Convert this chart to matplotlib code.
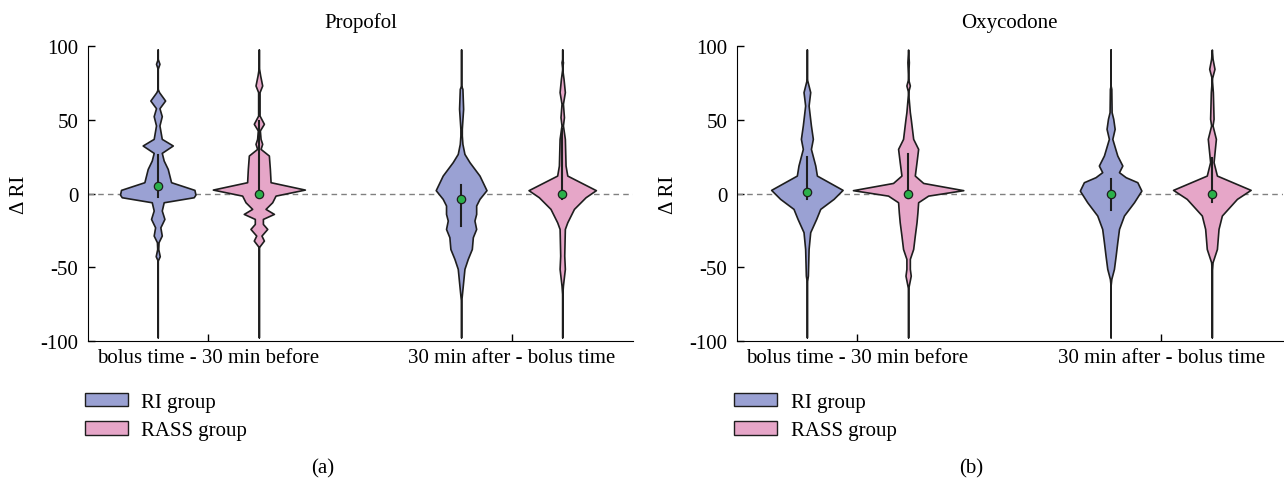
import matplotlib
matplotlib.use("Agg")
import matplotlib.pyplot as plt
from matplotlib.patches import Patch

plt.rcParams['font.family'] = ['Liberation Serif', 'DejaVu Serif']
plt.rcParams['axes.unicode_minus'] = False

# violin outlines: value levels and half widths (x units)
prop_ri_before_y = [97.7, 91.4, 88.0, 84.6, 71.0, 68.8, 63.1, 57.9, 52.5, 46.2, 37.1, 32.6, 27.6, 22.4,
                    16.7, 7.7, 2.5, -0.7, -2.5, -5.9, -11.5, -17.2, -22.9, -28.5, -33.0, -37.6, -42.5,
                    -45.5, -97.5]
prop_ri_before_w = [0, 0, 0.017, 0, 0, 0.013, 0.073, 0.017, 0.040, 0.017, 0.040, 0.149, 0.040, 0.059,
                    0.099, 0.132, 0.363, 0.373, 0.356, 0.059, 0.040, 0.066, 0.026, 0.040, 0.008, 0.005,
                    0.020, 0, 0]
prop_rass_before_y = [97.7, 85.7, 80.1, 73.3, 68.8, 52.9, 47.3, 42.8, 37.1, 33.7, 30.3, 25.8, 16.7, 7.7,
                      2.7, -1.4, -5.9, -10.4, -13.8, -17.2, -20.6, -24.0, -28.5, -31.9, -36.4, -97.5]
prop_rass_before_w = [0, 0, 0.013, 0.033, 0.007, 0.007, 0.050, 0.010, 0.017, 0.033, 0.017, 0.099, 0.109,
                      0.116, 0.455, 0.165, 0.132, 0.066, 0.149, 0.040, 0.040, 0.083, 0.026, 0.050, 0, 0]
prop_ri_after_y = [97.7, 73.3, 71.0, 57.5, 43.9, 39.4, 33.7, 26.9, 21.3, 12.2, 2.3, -3.6, -8.1, -13.8,
                   -18.3, -24.0, -29.6, -37.6, -44.3, -51.1, -60.2, -69.2, -73.8, -97.5]
prop_ri_after_w = [0, 0, 0.013, 0.020, 0.007, 0.007, 0.013, 0.033, 0.083, 0.182, 0.251, 0.182, 0.149,
                   0.149, 0.132, 0.149, 0.116, 0.106, 0.066, 0.033, 0.020, 0.007, 0, 0]
prop_rass_after_y = [97.7, 91.4, 89.1, 84.6, 77.8, 68.8, 60.9, 51.8, 46.2, 37.1, 19.0, 12.2, 2.3, -2.5,
                     -10.4, -19.5, -24.0, -42.1, -51.1, -62.4, -69.2, -97.5]
prop_rass_after_w = [0, 0, 0.007, 0, 0.013, 0.026, 0.007, 0.017, 0.007, 0.026, 0.033, 0.050, 0.333,
                     0.231, 0.116, 0.050, 0.026, 0.020, 0.026, 0.007, 0, 0]

oxy_ri_before_y = [97.7, 77.8, 68.8, 59.7, 46.2, 37.1, 30.3, 19.0, 12.2, 2.5, -3.6, -10.4, -17.2, -26.2,
                   -37.6, -55.7, -60.2, -97.5]
oxy_ri_before_w = [0, 0, 0.033, 0.017, 0.040, 0.059, 0.040, 0.083, 0.099, 0.353, 0.264, 0.132, 0.092,
                   0.033, 0.017, 0.010, 0, 0]
oxy_rass_before_y = [97.7, 89.1, 77.8, 73.3, 68.8, 55.2, 50.7, 37.1, 30.3, 21.3, 12.2, 7.2, 2.3, -1.4,
                     -5.9, -12.7, -19.5, -28.5, -37.6, -44.3, -51.1, -55.7, -64.7, -97.5]
oxy_rass_before_w = [0, 0.007, 0, 0.017, 0, 0.017, 0.026, 0.050, 0.099, 0.083, 0.066, 0.149, 0.545,
                     0.198, 0.099, 0.092, 0.083, 0.066, 0.050, 0.017, 0.017, 0.026, 0, 0]
oxy_ri_after_y = [97.7, 73.3, 71.0, 55.2, 50.7, 43.9, 37.1, 25.8, 19.0, 14.5, 11.1, 7.7, 2.0, -5.9,
                  -14.9, -24.0, -33.0, -42.1, -51.1, -57.9, -62.4, -97.5]
oxy_ri_after_w = [0, 0, 0.007, 0.010, 0.026, 0.040, 0.017, 0.066, 0.116, 0.083, 0.149, 0.264, 0.304,
                  0.231, 0.132, 0.083, 0.066, 0.050, 0.033, 0.007, 0, 0]
oxy_rass_after_y = [97.7, 91.4, 84.6, 77.8, 68.8, 50.7, 46.2, 37.1, 21.3, 12.2, 2.5, -3.6, -14.9, -24.0,
                    -37.6, -46.6, -53.4, -97.5]
oxy_rass_after_w = [0, 0.007, 0.026, 0, 0.010, 0.017, 0.007, 0.040, 0.017, 0.050, 0.383, 0.248, 0.099,
                    0.066, 0.050, 0.007, 0, 0]

# median, lower and upper quartile per violin
prop_medians = [5, 0, -4, 0]
prop_q1 = [-2.5, -1, -22, -4]
prop_q3 = [26, 49, 6, 44]
oxy_medians = [1, 0, 0, 0]
oxy_q1 = [-4, -3, -11, -6]
oxy_q3 = [25, 27, 10, 24]

positions = [1, 2, 4, 5]
group_centers = [1.5, 4.5]
group_labels = ["bolus time - 30 min before", "30 min after - bolus time"]
group_names = ["RI group", "RASS group"]
colors = ["#9aa1d3", "#e6a6c8"]


def violines(ax, perfiles, medianas, q1, q3, titulo, letra):
    for i, (ys, ws) in enumerate(perfiles):
        x = positions[i]
        ax.fill_betweenx(ys, [x - w for w in ws], [x + w for w in ws],
                         facecolor=colors[i % 2], edgecolor="#1e1e1e", linewidth=1.2, zorder=3)
        ax.plot([x, x], [q1[i], q3[i]], color="#1e1e1e", linewidth=1.5, zorder=4)
        ax.plot(x, medianas[i], "o", markersize=6, markerfacecolor="#2bb04a",
                markeredgecolor="#1e1e1e", markeredgewidth=0.9, zorder=5)
    ax.axhline(0, color="#808080", linestyle=(0, (4, 3)), linewidth=1, zorder=2)
    ax.set_xlim(0.31, 5.7)
    ax.set_ylim(-100, 100)
    ax.set_yticks([-100, -50, 0, 50, 100])
    ax.set_xticks(group_centers)
    ax.set_xticklabels(group_labels)
    ax.tick_params(direction="in", labelsize=15, length=5, width=1)
    ax.tick_params(axis="x", pad=5)
    ax.tick_params(axis="y", pad=7)
    ax.spines["top"].set_visible(False)
    ax.spines["right"].set_visible(False)
    ax.set_ylabel("Δ RI", fontsize=15, labelpad=8)
    ax.set_title(titulo, fontsize=15, pad=14)
    handles = [Patch(facecolor=c, edgecolor="#1e1e1e", linewidth=1) for c in colors]
    ax.legend(handles, group_names, loc="upper left", bbox_to_anchor=(-0.005, -0.175),
              frameon=False, fontsize=15, handlelength=2.05, handleheight=0.62,
              handletextpad=0.65, labelspacing=0.45, borderpad=0, borderaxespad=0)
    ax.text(0.43, -0.43, letra, transform=ax.transAxes, ha="center", va="center", fontsize=15)


fig = plt.figure(figsize=(12.84, 4.81), dpi=100)
ax1 = fig.add_axes([0.0685, 0.289, 0.4245, 0.613])
ax2 = fig.add_axes([0.574, 0.289, 0.425, 0.613])

violines(ax1, [(prop_ri_before_y, prop_ri_before_w), (prop_rass_before_y, prop_rass_before_w),
               (prop_ri_after_y, prop_ri_after_w), (prop_rass_after_y, prop_rass_after_w)],
         prop_medians, prop_q1, prop_q3, "Propofol", "(a)")
violines(ax2, [(oxy_ri_before_y, oxy_ri_before_w), (oxy_rass_before_y, oxy_rass_before_w),
               (oxy_ri_after_y, oxy_ri_after_w), (oxy_rass_after_y, oxy_rass_after_w)],
         oxy_medians, oxy_q1, oxy_q3, "Oxycodone", "(b)")

fig.savefig("out.png", dpi=100)
